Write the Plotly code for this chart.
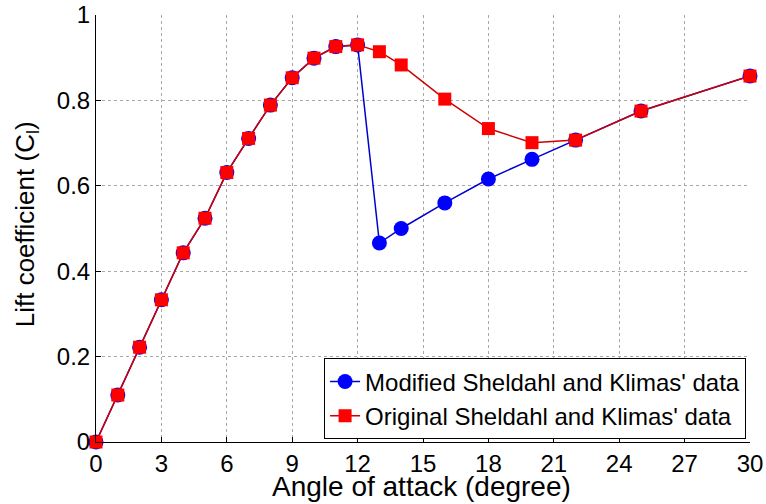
import plotly.graph_objects as go

# Data
angle_orig = [0, 1, 2, 3, 4, 5, 6, 7, 8, 9, 10, 11, 12, 13, 14, 16, 18, 20, 22, 25, 30]
cl_orig = [0.0, 0.110, 0.222, 0.333, 0.443, 0.524, 0.631, 0.711, 0.789, 0.853, 0.899,
           0.926, 0.930, 0.914, 0.883, 0.803, 0.734, 0.701, 0.707, 0.775, 0.857]
angle_mod = [0, 1, 2, 3, 4, 5, 6, 7, 8, 9, 10, 11, 12, 13, 14, 16, 18, 20, 22, 25, 30]
cl_mod = [0.0, 0.110, 0.222, 0.333, 0.443, 0.524, 0.631, 0.711, 0.789, 0.853, 0.899,
          0.926, 0.930, 0.466, 0.500, 0.560, 0.616, 0.662, 0.707, 0.775, 0.857]
x_ticks = [0, 3, 6, 9, 12, 15, 18, 21, 24, 27, 30]
y_ticks = [0, 0.2, 0.4, 0.6, 0.8, 1]
y_tick_labels = ["0", "0.2", "0.4", "0.6", "0.8", "1"]

FONT = "Arial, Liberation Sans, sans-serif"

fig = go.Figure()
fig.add_trace(go.Scatter(
    x=angle_mod, y=cl_mod, mode="lines+markers",
    name="Modified Sheldahl and Klimas' data",
    line=dict(color="#0000d0", width=1.5),
    marker=dict(symbol="circle", size=15, color="#0000ff", line=dict(width=0)),
    cliponaxis=False,
))
fig.add_trace(go.Scatter(
    x=angle_orig, y=cl_orig, mode="lines+markers",
    name="Original Sheldahl and Klimas' data",
    line=dict(color="#d00000", width=1.5),
    marker=dict(symbol="square", size=13, color="#ff0000", line=dict(width=0)),
    cliponaxis=False,
))

fig.update_layout(
    width=766, height=504,
    margin=dict(l=96, r=16, t=15, b=62, autoexpand=False),
    paper_bgcolor="white", plot_bgcolor="white",
    font=dict(family=FONT, size=24, color="black"),
    showlegend=True,
    legend=dict(
        x=0.994, y=0.006, xanchor="right", yanchor="bottom",
        bgcolor="white", bordercolor="black", borderwidth=1,
        font=dict(family=FONT, size=24, color="black"),
        tracegroupgap=0, itemwidth=30,
    ),
    xaxis=dict(
        range=[0, 30], tickvals=x_ticks, ticktext=[str(v) for v in x_ticks],
        showgrid=True, gridcolor="#a8a8a8", griddash="dot", gridwidth=1,
        showline=True, linecolor="black", linewidth=1,
        ticks="inside", ticklen=5, tickcolor="black",
        zeroline=False, automargin=False,
        tickfont=dict(size=24),
    ),
    yaxis=dict(
        range=[0, 1], tickvals=y_ticks, ticktext=y_tick_labels,
        showgrid=True, gridcolor="#a8a8a8", griddash="dot", gridwidth=1,
        showline=True, linecolor="black", linewidth=1,
        ticks="inside", ticklen=5, tickcolor="black",
        zeroline=False, automargin=False,
        tickfont=dict(size=24),
    ),
    annotations=[
        dict(text="Angle of attack (degree)", xref="paper", yref="paper",
             x=0.497, y=-0.104, xanchor="center", yanchor="middle",
             showarrow=False, font=dict(size=28)),
        dict(text="Lift coefficient (C<sub>l</sub>)", xref="paper", yref="paper",
             x=-0.107, y=0.51, xanchor="center", yanchor="middle", textangle=-90,
             showarrow=False, font=dict(size=26)),
    ],
)

fig.write_html("out.html", config={"displayModeBar": False},
               post_script="document.body.style.margin='0';document.body.style.padding='0';"
                           "window.dispatchEvent(new Event('resize'));")
